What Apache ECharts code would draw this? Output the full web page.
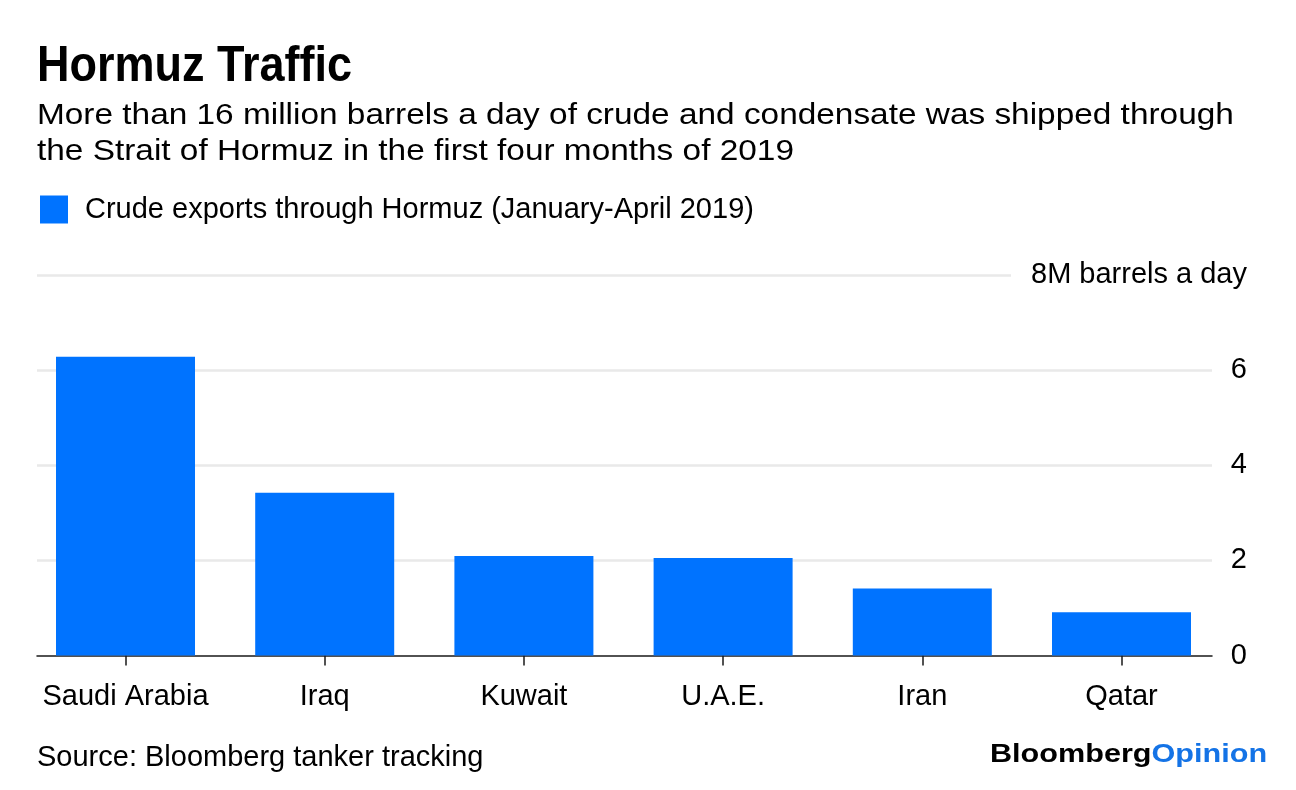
<!DOCTYPE html>
<html>
<head>
<meta charset="utf-8">
<script src="https://cdn.jsdelivr.net/npm/echarts@6/dist/echarts.min.js"></script>
<style>
html,body{margin:0;padding:0;background:#fff;}
#chart{width:1296px;height:790px;}
</style>
</head>
<body>
<div id="chart"></div>
<script>
var categories = ['Saudi Arabia', 'Iraq', 'Kuwait', 'U.A.E.', 'Iran', 'Qatar'];
var exportsMbd = [6.28, 3.42, 2.09, 2.05, 1.41, 0.91];
var yTicks = [0, 2, 4, 6, 8];
var seriesName = 'Crude exports through Hormuz (January-April 2019)';
var titleText = 'Hormuz Traffic';
var subtitleLines = [
  'More than 16 million barrels a day of crude and condensate was shipped through',
  'the Strait of Hormuz in the first four months of 2019'
];
var sourceText = 'Source: Bloomberg tanker tracking';
var unitLabel = '8M barrels a day';
var logoParts = ['Bloomberg', 'Opinion'];

var FONT = '"Liberation Sans", Arial, Helvetica, sans-serif';
var BLUE = '#0073ff';

var chart = echarts.init(document.getElementById('chart'), null, {renderer: 'canvas'});

var barData = categories.map(function (c, i) { return [i, exportsMbd[i]]; });
var catIdx = categories.map(function (c, i) { return i; });

var option = {
  backgroundColor: '#ffffff',
  animation: false,
  textStyle: {fontFamily: FONT},
  grid: {left: 37, right: 84, top: 275, bottom: 134.5, containLabel: false},
  legend: {
    show: true,
    left: 40,
    top: 195,
    padding: 0,
    icon: 'rect',
    itemWidth: 28,
    itemHeight: 28,
    itemGap: 0,
    selectedMode: false,
    textStyle: {fontFamily: FONT, fontSize: 29, color: '#000', padding: [0, 0, 0, 12]},
    data: [seriesName]
  },
  xAxis: {
    type: 'value',
    min: -0.4443,
    max: 5.4543,
    axisLine: {show: true, onZero: false, lineStyle: {color: '#1a1a1a', width: 1.5}},
    axisTick: {show: true, customValues: catIdx, length: 10, lineStyle: {color: '#1a1a1a', width: 1.5}},
    axisLabel: {
      show: true,
      customValues: catIdx,
      margin: 27,
      fontFamily: FONT,
      fontSize: 29,
      color: '#000',
      formatter: function (v) { return categories[Math.round(v)]; }
    },
    splitLine: {show: false}
  },
  yAxis: [
    {
      type: 'value',
      position: 'right',
      min: yTicks[0],
      max: yTicks[yTicks.length - 1],
      interval: 2,
      axisLine: {show: false},
      axisTick: {show: false},
      axisLabel: {
        show: true,
        align: 'right',
        margin: 35,
        fontFamily: FONT,
        fontSize: 29,
        color: '#000',
        formatter: function (v) { return v === 8 ? '' : String(v); }
      },
      splitLine: {show: true, lineStyle: {color: ['transparent', '#e9e9e9', '#e9e9e9', '#e9e9e9', '#e9e9e9'], width: 2.5}}
    },
    {
      type: 'value',
      position: 'right',
      z: 10,
      min: yTicks[0],
      max: yTicks[yTicks.length - 1],
      interval: 2,
      axisLine: {show: false},
      axisTick: {show: false},
      splitLine: {show: false},
      axisLabel: {
        show: true,
        align: 'right',
        margin: 35,
        color: '#000',
        formatter: function (v) { return v === 8 ? '{u|' + unitLabel + '}' : ''; },
        rich: {
          u: {fontFamily: FONT, fontSize: 29, color: '#000', backgroundColor: '#ffffff', padding: [4, 0, 4, 20]}
        }
      }
    }
  ],
  series: [{
    name: seriesName,
    type: 'bar',
    xAxisIndex: 0,
    yAxisIndex: 0,
    barWidth: 139,
    itemStyle: {color: BLUE},
    data: barData
  }],
  graphic: [
    {type: 'text', x: 37, y: 67, scaleX: 0.9, style: {text: titleText, font: 'bold 50px ' + FONT, fill: '#000', verticalAlign: 'middle', align: 'left'}},
    {type: 'text', x: 37, y: 116, scaleX: 1.151, style: {text: subtitleLines[0], font: '29px ' + FONT, fill: '#000', verticalAlign: 'middle', align: 'left'}},
    {type: 'text', x: 37, y: 151.5, scaleX: 1.151, style: {text: subtitleLines[1], font: '29px ' + FONT, fill: '#000', verticalAlign: 'middle', align: 'left'}},
    {type: 'text', x: 37, y: 757.5, style: {text: sourceText, font: '29px ' + FONT, fill: '#000', verticalAlign: 'middle', align: 'left'}},
    {type: 'text', x: 990, y: 755, scaleX: 1.2, style: {
      text: '{a|' + logoParts[0] + '}{b|' + logoParts[1] + '}',
      verticalAlign: 'middle', align: 'left',
      rich: {
        a: {fontWeight: 'bold', fontSize: 25.5, fontFamily: FONT, fill: '#000'},
        b: {fontWeight: 'bold', fontSize: 25.5, fontFamily: FONT, fill: '#1473e6'}
      }
    }}
  ]
};
chart.setOption(option);
</script>
</body>
</html>
